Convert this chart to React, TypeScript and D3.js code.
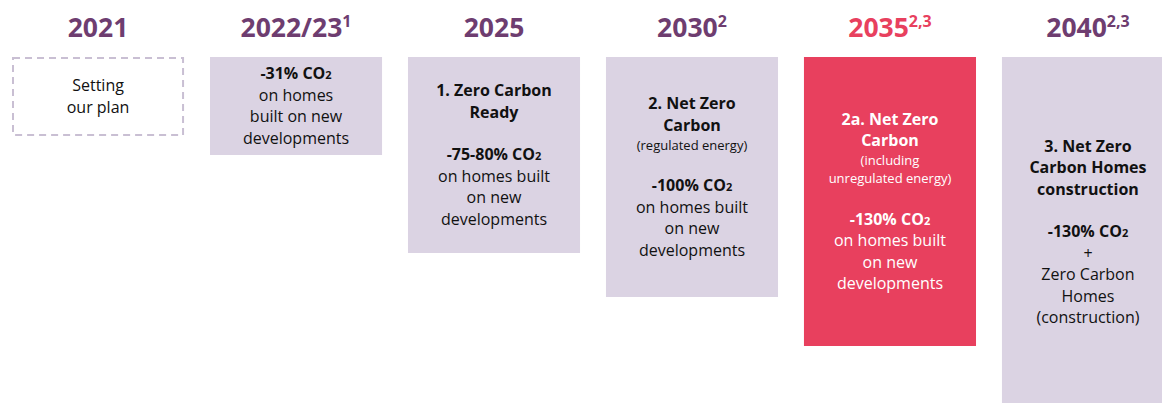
import React from 'react';
import * as d3 from 'd3';

const width = 1162;
const height = 403;

// milestone columns
const years = ['2021', '2022/23', '2025', '2030', '2035', '2040'];
const yearNotes = ['', '1', '', '2', '2,3', '2,3'];
const boxHeights = [79, 98, 196, 240, 289, 350];
const highlighted = [false, false, false, false, true, false];
const dashed = [true, false, false, false, false, false];

// b = bold, n = normal, s = small, g = gap ; "CO2" gets a small 2
const boxLines = [
  [['n', 'Setting'], ['n', 'our plan']],
  [['b', '-31% CO2'], ['n', 'on homes'], ['n', 'built on new'], ['n', 'developments']],
  [['b', '1. Zero Carbon'], ['b', 'Ready'], ['g', ''], ['b', '-75-80% CO2'], ['n', 'on homes built'], ['n', 'on new'], ['n', 'developments']],
  [['b', '2. Net Zero'], ['b', 'Carbon'], ['s', '(regulated energy)'], ['g', ''], ['b', '-100% CO2'], ['n', 'on homes built'], ['n', 'on new'], ['n', 'developments']],
  [['b', '2a. Net Zero'], ['b', 'Carbon'], ['s', '(including'], ['s', 'unregulated energy)'], ['g', ''], ['b', '-130% CO2'], ['n', 'on homes built'], ['n', 'on new'], ['n', 'developments']],
  [['b', '3. Net Zero'], ['b', 'Carbon Homes'], ['b', 'construction'], ['g', ''], ['b', '-130% CO2'], ['n', '+'], ['n', 'Zero Carbon'], ['n', 'Homes'], ['n', '(construction)']],
];

const purple = '#6e3d70';
const pink = '#e8405e';
const lavender = '#dbd3e3';
const font = '"Open Sans", sans-serif';

const boxTop = 57;
const lineH = { b: 21.5, n: 21.5, s: 18, g: 21 };

const x = d3.scaleBand().domain(years).range([12, 1174]).paddingInner(0.131).paddingOuter(0);
const h = d3.scaleLinear().domain([0, 100]).range([0, 100]);

const renderLine = (txt, type) => {
  const parts = txt.split('CO2');
  if (parts.length === 1) return txt;
  return [
    <tspan key="a">{parts[0]}CO</tspan>,
    <tspan key="b" fontSize={11}>2</tspan>,
    <tspan key="c">{parts[1]}</tspan>,
  ];
};

const App = () => {
  return (
    <svg width={width} height={height} style={{ position: 'absolute', left: 0, top: 0 }} fontFamily={font}>
      {years.map((yr, i) => {
        const x0 = x(yr);
        const bw = x.bandwidth();
        const cx = x0 + bw / 2;
        const bh = h(boxHeights[i]);
        const lines = boxLines[i];
        const total = lines.reduce((s, l) => s + lineH[l[0]], 0);
        let yy = boxTop + bh / 2 - total / 2;
        const txtFill = highlighted[i] ? '#fff' : '#111';
        return (
          <g key={yr}>
            <text x={cx} y={37} textAnchor="middle" fontSize={26.5} fontWeight={700}
              fill={highlighted[i] ? pink : purple}>
              {yr}
              {yearNotes[i] && <tspan fontSize={16} dy={-10}>{yearNotes[i]}</tspan>}
            </text>
            {dashed[i] ? (
              <rect x={x0 + 1} y={boxTop + 1} width={bw - 2} height={bh - 2} fill="none"
                stroke="#c9bfd3" strokeWidth={2} strokeDasharray="7 5" />
            ) : (
              <rect x={x0} y={boxTop} width={bw} height={bh} fill={highlighted[i] ? pink : lavender} />
            )}
            {lines.map(([type, txt], j) => {
              const lh = lineH[type];
              const cy = yy + lh / 2;
              yy += lh;
              if (type === 'g') return null;
              return (
                <text key={j} x={cx} y={cy} dy="0.35em" textAnchor="middle"
                  fontSize={type === 's' ? 13 : 16} fontWeight={type === 'b' ? 700 : 400} fill={txtFill}>
                  {renderLine(txt, type)}
                </text>
              );
            })}
          </g>
        );
      })}
    </svg>
  );
};

export default App;
